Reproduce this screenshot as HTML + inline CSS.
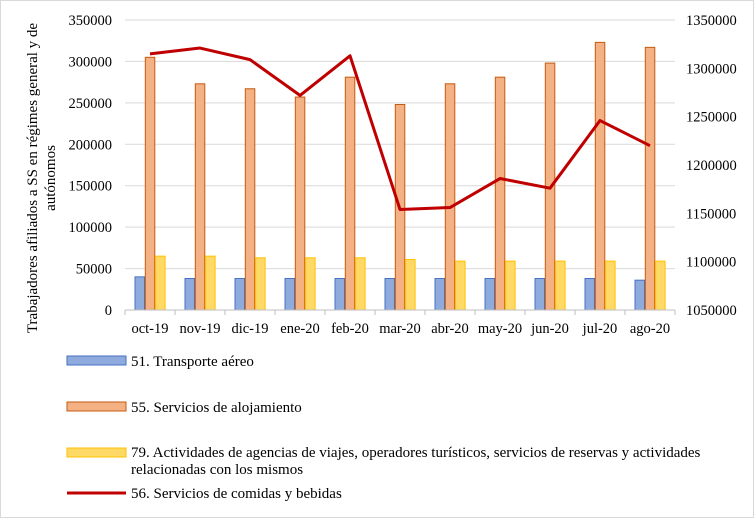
<!DOCTYPE html>
<html><head><meta charset="utf-8"><style>
body{margin:0;background:#fff;}
svg{display:block;font-family:"Liberation Serif",serif;}
</style></head><body>
<svg id="chart" width="754" height="518">
<rect x="0.5" y="0.5" width="753" height="517" fill="#fff" stroke="#d9d9d9"/>
<g id="grid"></g><g id="marks"></g><g id="axes"></g>
<text transform="translate(37,178) rotate(-90)" text-anchor="middle" font-size="15"><tspan x="0" y="0">Trabajadores  afiliados a SS en régimes general  y de</tspan><tspan x="0" y="18">autónomos</tspan></text>
<g font-size="15">
<rect x="67" y="356" width="59" height="9" fill="#8faadc" stroke="#4472c4"/>
<text x="131" y="366">51. Transporte aéreo</text>
<rect x="67" y="402" width="59" height="9" fill="#f4b183" stroke="#c55a11"/>
<text x="131" y="412">55. Servicios de alojamiento</text>
<rect x="67" y="448" width="59" height="9" fill="#ffd966" stroke="#ffc000"/>
<text x="131" y="457">79. Actividades de agencias de viajes, operadores turísticos, servicios de reservas y actividades</text>
<text x="131" y="474">relacionadas con los mismos</text>
<line x1="67" y1="493" x2="126" y2="493" stroke="#c00000" stroke-width="3"/>
<text x="131" y="498">56. Servicios de comidas y bebidas</text>
</g>
</svg>
<script>
const categories=["oct-19","nov-19","dic-19","ene-20","feb-20","mar-20","abr-20","may-20","jun-20","jul-20","ago-20"];
const transporte=[40000,38000,38000,38000,38000,38000,38000,38000,38000,38000,36000];
const alojamiento=[305000,273000,267000,257000,281000,248000,273000,281000,298000,323000,317000];
const agencias=[65000,65000,63000,63000,63000,61000,59000,59000,59000,59000,59000];
const comidas=[1315000,1321000,1309000,1272000,1313000,1154000,1156000,1186000,1176000,1246000,1220000];
const leftTicks=[0,50000,100000,150000,200000,250000,300000,350000];
const rightTicks=[1050000,1100000,1150000,1200000,1250000,1300000,1350000];
const NS="http://www.w3.org/2000/svg";
const X0=125,X1=675,Y0=310,Y1=20;
const yL=v=>Y0-(v/350000)*(Y0-Y1);
const yR=v=>Y0-((v-1050000)/300000)*(Y0-Y1);
const bw=(X1-X0)/categories.length;
const xc=i=>X0+bw*(i+0.5);
function mk(t,a,p){const e=document.createElementNS(NS,t);for(const k in a)e.setAttribute(k,a[k]);p.appendChild(e);return e;}
const grid=document.getElementById('grid'),marks=document.getElementById('marks'),axes=document.getElementById('axes');
leftTicks.forEach(v=>{
 const l=mk('line',{x1:X0,x2:X1,y1:yL(v),y2:yL(v),stroke:'#d9d9d9'},grid);
 
 
 const t=mk('text',{x:112,y:yL(v)+5,'text-anchor':'end','font-size':'14.5'},axes);
 t.textContent=v;
 
 
});
rightTicks.forEach(v=>{
 const t=mk('text',{x:686,y:yR(v)+5,'font-size':'14.5'},axes);
 t.textContent=v;
 
 
});
const ax=mk('line',{x1:X0,x2:X1,y1:Y0,y2:Y0,stroke:'#bfbfbf'},axes);


const series=[[transporte,'#8faadc','#4472c4','bar-transporte'],[alojamiento,'#f4b183','#c55a11','bar-alojamiento'],[agencias,'#ffd966','#ffc000','bar-agencias']];
categories.forEach((c,i)=>{
 const tk=mk('line',{x1:X0+bw*i,x2:X0+bw*i,y1:Y0,y2:Y0+5,stroke:'#bfbfbf'},axes);
 
 
 series.forEach((s,j)=>{
  const v=s[0][i];
  const r=mk('rect',{x:xc(i)-15+j*10.3,y:yL(v),width:9.5,height:Y0-yL(v),fill:s[1],stroke:s[2],'stroke-width':1},marks);
  
  
 });
 const t=mk('text',{x:xc(i),y:333,'text-anchor':'middle','font-size':'14.5'},axes);
 t.textContent=c;
 
 
});
const tk2=mk('line',{x1:X1,x2:X1,y1:Y0,y2:Y0+5,stroke:'#bfbfbf'},axes);


const pl=mk('polyline',{points:comidas.map((v,i)=>xc(i)+','+yR(v)).join(' '),fill:'none',stroke:'#c00000','stroke-width':3,'stroke-linejoin':'round'},marks);


</script>
</body></html>
